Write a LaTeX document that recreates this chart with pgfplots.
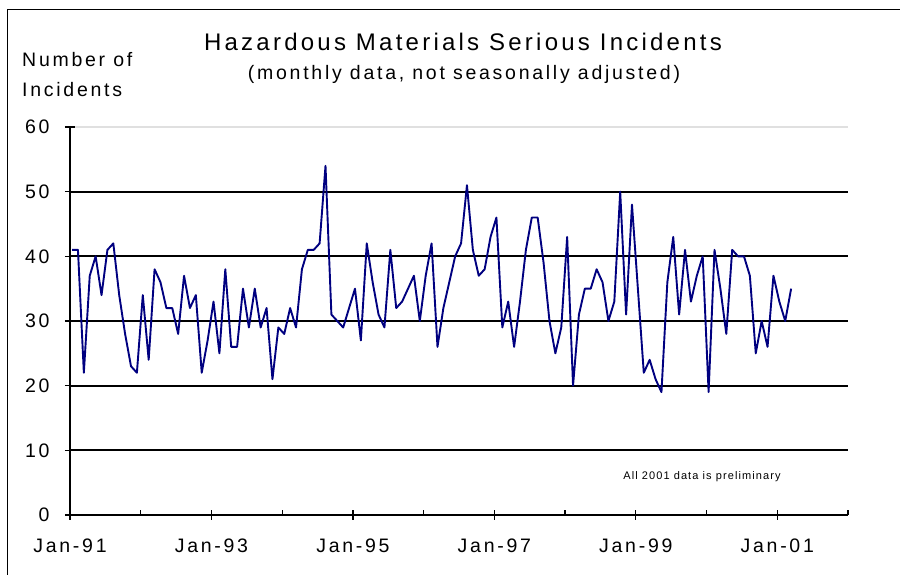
\documentclass[border=0pt]{standalone}
\usepackage{pgfplots}
\usepackage{pgfplotstable}
\pgfplotsset{compat=1.18}
\usepackage{fontspec}
\setmainfont{Liberation Sans}[LetterSpace=14]
\newfontfamily\titlefont{Liberation Sans}[LetterSpace=13.5]
\newfontfamily\notefont{Liberation Sans}[LetterSpace=10]
\definecolor{navyline}{RGB}{0,0,128}
\pgfplotstableread{
k v
0 41
1 41
2 22
3 37
4 40
5 34
6 41
7 42
8 34
9 28
10 23
11 22
12 34
13 24
14 38
15 36
16 32
17 32
18 28
19 37
20 32
21 34
22 22
23 27
24 33
25 25
26 38
27 26
28 26
29 35
30 29
31 35
32 29
33 32
34 21
35 29
36 28
37 32
38 29
39 38
40 41
41 41
42 42
43 54
44 31
45 30
46 29
47 32
48 35
49 27
50 42
51 36
52 31
53 29
54 41
55 32
56 33
57 35
58 37
59 30
60 37
61 42
62 26
63 32
64 36
65 40
66 42
67 51
68 41
69 37
70 38
71 43
72 46
73 29
74 33
75 26
76 33
77 41
78 46
79 46
80 39
81 30
82 25
83 29
84 43
85 20
86 31
87 35
88 35
89 38
90 36
91 30
92 33
93 50
94 31
95 48
96 35
97 22
98 24
99 21
100 19
101 36
102 43
103 31
104 41
105 33
106 37
107 40
108 19
109 41
110 35
111 28
112 41
113 40
114 40
115 37
116 25
117 30
118 26
119 37
120 33
121 30
122 35
}\hazmat
\begin{document}
\begin{tikzpicture}
\useasboundingbox (0bp,0bp) rectangle (900bp,575bp);
\fill[white] (0bp,0bp) rectangle (900bp,575bp);
\begin{axis}[
  at={(70bp,60bp)}, anchor=south west,
  scale only axis, width=778bp, height=388bp,
  xmin=0, xmax=132, ymin=0, ymax=60,
  axis lines*=left,
  axis line style={black, line width=1.6bp},
  xtick={0,24,...,120},
  xticklabels={Jan-91,Jan-93,Jan-95,Jan-97,Jan-99,Jan-01},
  minor xtick={12,36,...,132},
  ytick={0,10,...,50},
  extra y ticks={60},
  extra y tick style={major grid style={black!12, line width=1.4bp}},
  ymajorgrids,
  major grid style={black, line width=2bp},
  tick align=center,
  major tick length=10bp,
  minor tick length=5bp,
  tick style={black, line width=1.3bp},
  minor x tick style={yshift=2.5bp},
  /pgf/number format/assume math mode=true,
  tick label style={font=\fontsize{19.5bp}{23bp}\selectfont},
  xticklabel style={yshift=-15bp},
  yticklabel style={xshift=-12bp},
  clip=false,
]
\addplot[navyline, line width=1.9bp, line join=round] table[x expr=\thisrow{k}+0.35, y=v] {\hazmat};
\end{axis}
\draw[line width=1bp] (7bp,0bp) -- (7bp,565bp) -- (900bp,565bp);
\node[font=\titlefont\fontsize{24bp}{28bp}\selectfont] at (463bp,533bp) {Hazardous Materials Serious Incidents};
\node[font=\fontsize{19.5bp}{23bp}\selectfont] at (464bp,501bp) {(monthly data, not seasonally adjusted)};
\node[font=\fontsize{19.5bp}{23bp}\selectfont, anchor=west, inner sep=0pt] at (22bp,515bp) {Number of};
\node[font=\fontsize{19.5bp}{23bp}\selectfont, anchor=west, inner sep=0pt] at (22bp,485bp) {Incidents};
\node[font=\notefont\fontsize{11bp}{13bp}\selectfont] at (702bp,98bp) {All 2001 data is preliminary};
\end{tikzpicture}
\end{document}
